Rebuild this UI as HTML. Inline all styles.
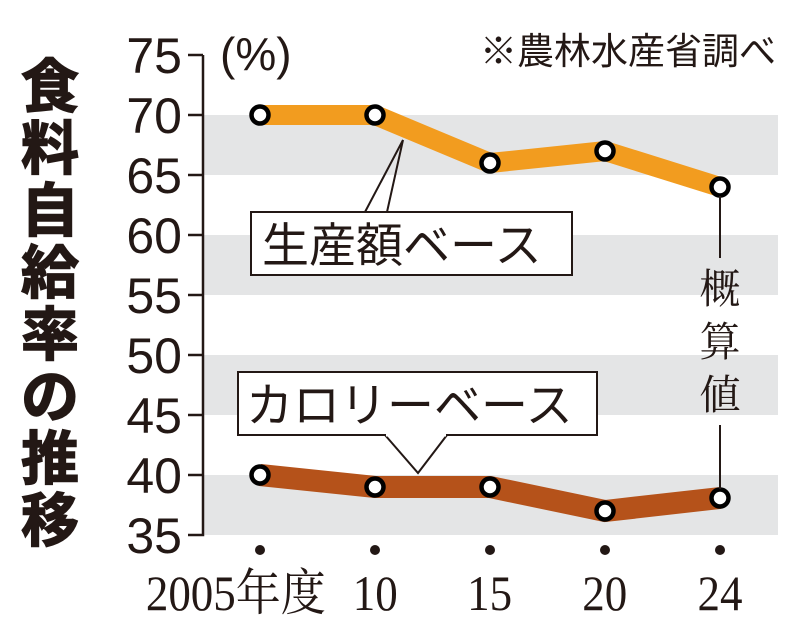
<!DOCTYPE html>
<html><head><meta charset="utf-8"><style>
body{margin:0;background:#fff;}
svg{display:block;}
</style></head><body>
<svg width="800" height="637" viewBox="0 0 800 637" xmlns="http://www.w3.org/2000/svg">
<g fill="#e4e5e6">
<rect x="203" y="115" width="575" height="60"/>
<rect x="203" y="235" width="575" height="60"/>
<rect x="203" y="355" width="575" height="60"/>
<rect x="203" y="475" width="575" height="60"/>
</g>
<g stroke="#231815" stroke-width="2.5" fill="none">
<path d="M203 55 V535 H188"/>
<path d="M188 55H203M188 115H203M188 175H203M188 235H203M188 295H203M188 355H203M188 415H203M188 475H203"/>
</g>
<g font-family="'Liberation Sans','Noto Sans CJK JP',sans-serif" font-size="50" fill="#231815" text-anchor="end">
<text x="182" y="73">75</text><text x="182" y="133">70</text><text x="182" y="193">65</text><text x="182" y="253">60</text>
<text x="182" y="313">55</text><text x="182" y="373">50</text><text x="182" y="433">45</text><text x="182" y="493">40</text><text x="182" y="553">35</text>
</g>
<text x="220" y="70" font-family="'Liberation Sans','Noto Sans CJK JP',sans-serif" font-size="46" fill="#231815">(%)</text>
<text x="776" y="64" text-anchor="end" font-family="'Liberation Sans','Noto Sans CJK JP',sans-serif" font-size="37" fill="#231815">※農林水産省調べ</text>
<g font-family="'Liberation Sans','Noto Sans CJK JP',sans-serif" font-size="58" font-weight="bold" fill="#231815" text-anchor="middle" stroke="#231815" stroke-width="1.5">
<text x="50" y="107">食</text><text x="50" y="169">料</text><text x="50" y="231">自</text><text x="50" y="293">給</text>
<text x="50" y="355">率</text><text x="50" y="417">の</text><text x="50" y="479">推</text><text x="50" y="541">移</text>
</g>
<polyline points="260,115 375,115 490,163 605,151 720,187" fill="none" stroke="#f29c1f" stroke-width="20" stroke-linejoin="miter"/>
<polyline points="260,475 375,487 490,487 605,511 720,498" fill="none" stroke="#b5521a" stroke-width="22" stroke-linejoin="miter"/>
<g fill="#fff" stroke="#000" stroke-width="4.5">
<circle cx="260" cy="115" r="8.5"/><circle cx="375" cy="115" r="8.5"/><circle cx="490" cy="163" r="8.5"/><circle cx="605" cy="151" r="8.5"/><circle cx="720" cy="187" r="8.5"/>
<circle cx="260" cy="475" r="8.5"/><circle cx="375" cy="487" r="8.5"/><circle cx="490" cy="487" r="8.5"/><circle cx="605" cy="511" r="8.5"/><circle cx="720" cy="498" r="8.5"/>
</g>
<g stroke="#231815" stroke-width="2" fill="#fff">
<polyline points="365,212 403,140 387,212" fill="none"/>
<rect x="251" y="212" width="321" height="63"/>
<rect x="238" y="372" width="359" height="63"/>
<polyline points="385,435 418,473 447,435" fill="#fff"/>
<line x1="386" y1="435" x2="446" y2="435" stroke="#fff" stroke-width="3"/>
<path d="M720 196 V258 M720 425 V489" fill="none"/>
</g>
<g font-family="'Liberation Sans','Noto Sans CJK JP',sans-serif" font-size="47" fill="#231815">
<text x="262" y="262">生産額ベース</text>
<text x="246" y="422">カロリーベース</text>
</g>
<g font-family="'Liberation Serif','Noto Serif CJK SC',serif" font-size="41" fill="#231815" text-anchor="middle">
<text x="720" y="303">概</text><text x="720" y="356">算</text><text x="720" y="409">値</text>
</g>
<g fill="#231815">
<circle cx="260" cy="550" r="5"/><circle cx="375" cy="550" r="5"/><circle cx="490" cy="550" r="5"/><circle cx="605" cy="550" r="5"/><circle cx="720" cy="550" r="5"/>
</g>
<g font-family="'Liberation Serif','Noto Serif CJK SC',serif" font-size="50" fill="#231815" text-anchor="middle" transform="scale(0.9,1)">
<text x="262" y="610">2005年度</text>
<text x="417" y="610">10</text>
<text x="544" y="610">15</text>
<text x="672" y="610">20</text>
<text x="800" y="610">24</text>
</g>
</svg>
</body></html>
